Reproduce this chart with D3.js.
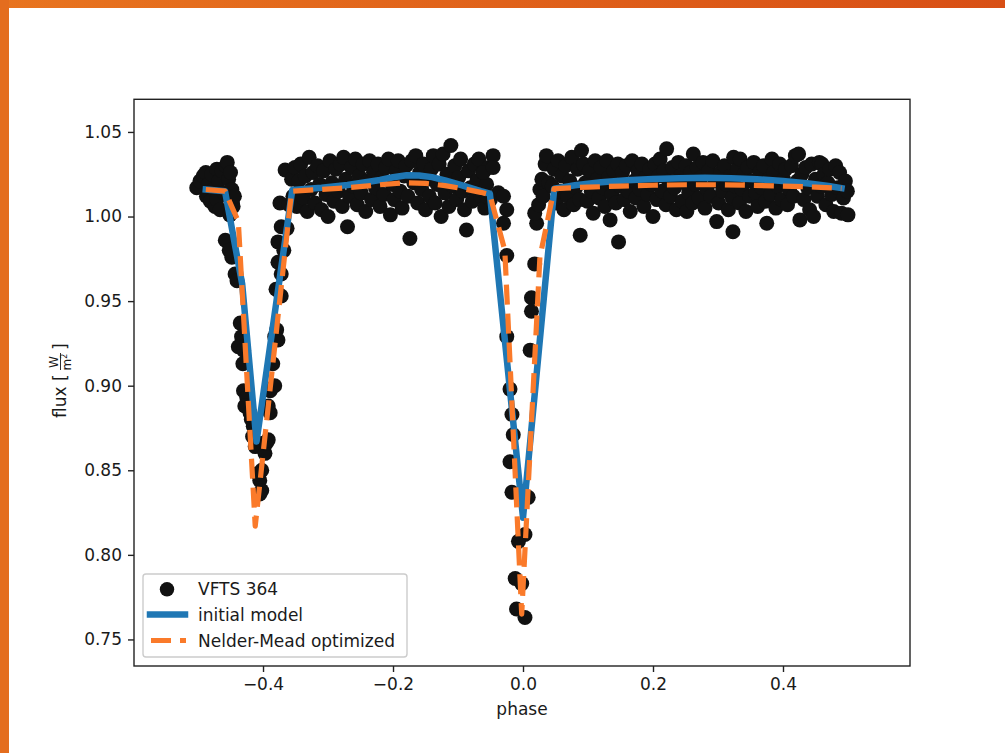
<!DOCTYPE html>
<html><head><meta charset="utf-8">
<script src="https://cdn.jsdelivr.net/npm/d3@7"></script>
<style>
html,body{margin:0;padding:0;background:#fff;}
svg{display:block;}
text{font-family:"DejaVu Sans",sans-serif;fill:#1a1a1a;}
</style></head>
<body>
<svg id="chart" width="1005" height="753"></svg>
<script>
// ---------- data ----------
const phaseTicks = [-0.4, -0.2, 0.0, 0.2, 0.4];
const fluxTicks = [0.75, 0.80, 0.85, 0.90, 0.95, 1.00, 1.05];
const seriesNames = ["VFTS 364", "initial model", "Nelder-Mead optimized"];

// observed points [phase, flux]
const obsOutA = [[-0.502,1.017],[-0.497,1.021],[-0.492,1.024],[-0.488,1.026],[-0.487,1.012],[-0.484,1.019],[-0.481,1.009],[-0.479,1.025],[-0.476,1.016],[-0.474,1.006],[-0.471,1.028],[-0.471,1.010],[-0.468,1.021],[-0.466,1.004],[-0.463,1.027],[-0.460,1.014],[-0.457,1.030],[-0.455,1.032],[-0.453,1.022],[-0.451,1.001],[-0.450,1.026],[-0.448,1.016],[-0.447,1.008],[-0.446,1.006],[-0.444,1.012]];
const obsEclipse1 = [[-0.458,0.986],[-0.452,0.980],[-0.448,0.976],[-0.443,0.966],[-0.440,0.962],[-0.435,0.937],[-0.433,0.929],[-0.438,0.923],[-0.430,0.921],[-0.431,0.913],[-0.430,0.897],[-0.425,0.893],[-0.428,0.888],[-0.420,0.884],[-0.418,0.880],[-0.415,0.876],[-0.416,0.870],[-0.412,0.864],
 [-0.400,0.866],[-0.397,0.860],[-0.405,0.844],[-0.402,0.838],[-0.405,0.836],[-0.402,0.850],[-0.408,0.848],
 [-0.395,0.866],[-0.392,0.868],[-0.392,0.888],[-0.389,0.884],[-0.389,0.897],[-0.385,0.913],[-0.382,0.900],[-0.382,0.929],[-0.379,0.933],[-0.377,0.927],[-0.380,0.957],[-0.372,0.953],[-0.372,0.966],[-0.377,0.973],[-0.377,0.985],[-0.372,0.994],[-0.374,1.008],[-0.368,0.980],[-0.366,1.0275],[-0.356,1.022],[-0.363,0.993],[-0.360,1.007]];
const obsOutB = [[-0.354,1.012],[-0.351,1.029],[-0.348,1.006],[-0.345,1.021],[-0.342,1.031],[-0.338,1.011],[-0.335,1.024],[-0.332,1.003],[-0.329,1.035],[-0.326,1.016],[-0.323,1.026],[-0.320,1.008],[-0.316,1.030],[-0.313,1.019],[-0.310,1.004],[-0.307,1.027],[-0.303,1.013],[-0.300,1.000],[-0.297,1.033],[-0.294,1.020],[-0.291,1.009],[-0.288,1.028],[-0.284,1.015],[-0.281,1.031],[-0.278,1.006],[-0.276,1.035],[-0.273,1.022],[-0.270,0.994],[-0.267,1.012],[-0.264,1.029],[-0.261,1.018],[-0.258,1.034],[-0.255,1.007],[-0.252,1.024],[-0.249,1.014],[-0.246,1.031],[-0.242,1.003],[-0.239,1.021],[-0.236,1.033],[-0.233,1.010],[-0.230,1.026],[-0.227,1.017],[-0.223,1.031],[-0.220,1.006],[-0.217,1.023],[-0.214,1.013],[-0.211,1.029],[-0.207,1.034],[-0.204,1.001],[-0.201,1.019],[-0.198,1.010],[-0.195,1.027],[-0.192,1.033],[-0.189,1.015],[-0.186,1.005],[-0.183,1.024],[-0.180,1.030],[-0.177,1.012],[-0.174,0.987],[-0.171,1.033],[-0.168,1.020],[-0.165,1.036],[-0.162,1.008],[-0.159,1.026],[-0.156,1.016],[-0.153,1.031],[-0.150,1.004],[-0.147,1.022],[-0.144,1.012],[-0.141,1.028],[-0.138,1.036],[-0.135,1.008],[-0.132,1.019],[-0.129,1.031],[-0.126,1.000],[-0.123,1.037],[-0.120,1.014],[-0.117,1.025],[-0.114,1.006],[-0.111,1.042],[-0.108,1.018],[-0.105,1.030],[-0.102,1.010],[-0.099,1.023],[-0.096,1.034],[-0.093,1.015],[-0.090,1.004],[-0.087,0.992],[-0.084,1.027],[-0.081,1.017],[-0.078,1.009],[-0.075,1.031],[-0.071,1.021],[-0.068,1.034],[-0.065,1.012],[-0.062,1.026],[-0.059,1.005],[-0.056,1.019],[-0.053,1.029],[-0.050,1.010],[-0.046,1.036]];
const obsEclipse2 = [[-0.061,1.026],[-0.056,1.012],[-0.046,1.029],[-0.038,1.014],[-0.030,1.012],[-0.025,1.004],[-0.030,0.996],[-0.025,0.977],[-0.025,0.929],[-0.020,0.898],[-0.017,0.883],[-0.015,0.871],[-0.020,0.855],[-0.017,0.837],[0.008,0.834],[0.003,0.812],[-0.007,0.808],[-0.012,0.786],[-0.002,0.783],[-0.010,0.768],[0.003,0.763],[0.013,0.952],[0.013,0.944],[0.011,0.921],[0.018,0.972],[0.021,0.996],[0.018,1.002],[0.024,1.007],[0.026,1.016],[0.029,1.022],[0.034,1.031],[0.036,1.036],[0.031,1.012],[0.040,1.020]];
const obsOutC = [[0.045,1.018],[0.048,1.028],[0.051,1.008],[0.054,1.033],[0.057,1.015],[0.060,1.024],[0.063,1.004],[0.066,1.030],[0.069,1.012],[0.072,1.021],[0.075,1.035],[0.078,1.007],[0.081,1.017],[0.084,1.028],[0.087,1.010],[0.088,0.989],[0.090,1.039],[0.093,1.031],[0.096,1.020],[0.099,1.009],[0.102,1.027],[0.105,1.015],[0.108,1.002],[0.111,1.033],[0.114,1.022],[0.117,1.011],[0.120,1.029],[0.123,1.017],[0.126,1.006],[0.129,1.033],[0.132,1.023],[0.134,0.998],[0.137,1.013],[0.140,1.027],[0.143,1.008],[0.146,1.031],[0.147,0.985],[0.150,1.018],[0.153,1.026],[0.156,1.010],[0.159,1.030],[0.162,1.015],[0.165,1.003],[0.168,1.033],[0.171,1.021],[0.174,1.011],[0.177,1.027],[0.180,1.016],[0.183,1.031],[0.186,1.006],[0.189,1.023],[0.192,1.013],[0.195,1.028],[0.198,1.019],[0.200,1.000],[0.203,1.031],[0.206,1.010],[0.209,1.024],[0.211,1.034],[0.214,1.015],[0.217,1.027],[0.220,1.007],[0.221,1.040],[0.224,1.021],[0.227,1.012],[0.230,1.029],[0.233,1.017],[0.236,1.004],[0.239,1.032],[0.242,1.024],[0.245,1.009],[0.248,1.020],[0.251,1.030],[0.252,1.003],[0.255,1.014],[0.258,1.026],[0.261,1.008],[0.262,1.037],[0.265,1.019],[0.268,1.029],[0.271,1.011],[0.274,1.023],[0.277,1.032],[0.280,1.005],[0.283,1.016],[0.286,1.027],[0.289,1.012],[0.292,1.033],[0.295,1.021],[0.298,0.997],[0.301,1.008],[0.304,1.026],[0.307,1.015],[0.310,1.030],[0.313,1.019],[0.316,1.004],[0.319,1.024],[0.322,1.011],[0.323,0.991],[0.324,1.035],[0.327,1.018],[0.330,1.028],[0.333,1.008],[0.334,1.034],[0.337,1.016],[0.340,1.025],[0.343,1.003],[0.346,1.029],[0.349,1.012],[0.352,1.021],[0.355,1.032],[0.358,1.014],[0.361,1.006],[0.364,1.026],[0.367,1.017],[0.370,1.030],[0.373,1.009],[0.375,0.996],[0.378,1.022],[0.381,1.013],[0.383,1.034],[0.386,1.026],[0.389,1.005],[0.392,1.018],[0.395,1.031],[0.398,1.010],[0.401,1.022],[0.404,1.028],[0.407,1.007],[0.410,1.016],[0.413,1.030],[0.416,1.012],[0.419,1.036],[0.422,1.021],[0.424,1.037],[0.426,0.998],[0.429,1.025],[0.432,1.010],[0.435,1.029],[0.438,1.017],[0.441,1.004],[0.444,1.031],[0.447,1.000],[0.450,1.022],[0.453,1.012],[0.456,1.032],[0.459,1.018],[0.460,1.031],[0.463,1.025],[0.466,1.007],[0.469,1.020],[0.472,1.028],[0.475,1.013],[0.478,1.003],[0.481,1.030],[0.484,1.017],[0.487,1.026],[0.490,1.002],[0.493,1.011],[0.496,1.021],[0.499,1.015],[0.500,1.001]];

// model curves [phase, flux]
const initialModel = [[-0.488,1.016],[-0.4585,1.015],[-0.432,0.960],[-0.410,0.867],[-0.355,1.0157],[-0.31,1.0170],[-0.27,1.0186],[-0.22,1.0216],[-0.20,1.0232],[-0.179,1.0244],[-0.16,1.0243],[-0.14,1.0233],[-0.12,1.0214],[-0.10,1.0192],[-0.08,1.0168],[-0.065,1.0150],[-0.051,1.0135],[0.000,0.822],[0.048,1.0165],[0.08,1.0185],[0.12,1.0203],[0.16,1.0215],[0.20,1.0222],[0.24,1.0227],[0.28,1.0229],[0.32,1.0227],[0.36,1.0221],[0.40,1.0210],[0.44,1.0195],[0.47,1.0180],[0.49,1.0168]];
const optimizedModel = [[-0.488,1.016],[-0.4585,1.015],[-0.438,0.997],[-0.412,0.817],[-0.356,1.0150],[-0.31,1.0160],[-0.27,1.0170],[-0.22,1.0188],[-0.18,1.0200],[-0.15,1.0196],[-0.12,1.0183],[-0.09,1.0163],[-0.065,1.0143],[-0.051,1.0130],[-0.028,0.980],[-0.002,0.765],[0.026,0.976],[0.048,1.0165],[0.10,1.0174],[0.15,1.0180],[0.20,1.0185],[0.25,1.0188],[0.30,1.0188],[0.35,1.0185],[0.40,1.0180],[0.45,1.0174],[0.49,1.0167]];

const observed = [].concat(obsOutA, obsEclipse1, obsOutB, obsEclipse2, obsOutC);

// ---------- drawing ----------
const svg = d3.select("#chart");
const C = {blue:"#1f77b4", orange:"#fa7a2a", dot:"#111111"};

// slide frame
const defs = svg.append("defs");
const grad = defs.append("linearGradient").attr("id","og").attr("x1","0").attr("x2","1").attr("y1","0").attr("y2","0");
grad.append("stop").attr("offset","0").attr("stop-color","#e8741f");
grad.append("stop").attr("offset","1").attr("stop-color","#d84f15");
svg.append("rect").attr("x",0).attr("y",0).attr("width",1005).attr("height",8).attr("fill","url(#og)");
svg.append("rect").attr("x",0).attr("y",0).attr("width",9).attr("height",753).attr("fill","#e46d1e");

const L = 134, R = 910, T = 99.3, B = 666;
const x = d3.scaleLinear().domain([-0.5985, 0.5954]).range([L, R]);
const y = d3.scaleLinear().domain([0.7343, 1.0693]).range([B, T]);

const fmtX = v => (v < 0 ? "\u2212" : "") + Math.abs(v).toFixed(1);
const fmtY = v => v.toFixed(2);

const plot = svg.append("g");
plot.append("defs").append("clipPath").attr("id","clip")
  .append("rect").attr("x",L).attr("y",T).attr("width",R-L).attr("height",B-T);

const g = plot.append("g").attr("clip-path","url(#clip)");
g.selectAll("circle.obs").data(observed).join("circle")
  .attr("class","obs")
  .attr("cx", d => x(d[0])).attr("cy", d => y(d[1]))
  .attr("r", 7.5).attr("fill", C.dot);

const line = d3.line().x(d => x(d[0])).y(d => y(d[1]));
g.append("path").datum(initialModel).attr("d", line)
  .attr("fill","none").attr("stroke",C.blue).attr("stroke-width",6.5)
  .attr("stroke-linejoin","round").attr("stroke-linecap","square");
g.append("path").datum(optimizedModel).attr("d", line)
  .attr("fill","none").attr("stroke",C.orange).attr("stroke-width",5.2)
  .attr("stroke-dasharray","20,9").attr("stroke-linejoin","round").attr("stroke-linecap","butt");

// axes
const ax = svg.append("g").attr("transform",`translate(0,${B})`)
  .call(d3.axisBottom(x).tickValues(phaseTicks).tickFormat(fmtX).tickSize(6).tickPadding(6));
const ay = svg.append("g").attr("transform",`translate(${L},0)`)
  .call(d3.axisLeft(y).tickValues(fluxTicks).tickFormat(fmtY).tickSize(6).tickPadding(6));
[ax, ay].forEach(a => {
  a.select(".domain").remove();
  a.selectAll(".tick line").attr("stroke","#222").attr("stroke-width",1.4);
  a.selectAll(".tick text").attr("font-family","DejaVu Sans").attr("font-size",17).attr("fill","#1a1a1a");
});
svg.append("rect").attr("x",L).attr("y",T).attr("width",R-L).attr("height",B-T)
  .attr("fill","none").attr("stroke","#222").attr("stroke-width",1.4);

// axis labels
svg.append("text").attr("x",(L+R)/2).attr("y",715).attr("text-anchor","middle")
  .attr("font-size",17).text("phase");
const yl = svg.append("g").attr("transform","translate(60,380) rotate(-90)");
yl.append("text").attr("x",-38).attr("y",6).attr("font-size",17).text("flux [");
yl.append("text").attr("x",18).attr("y",-2).attr("text-anchor","middle").attr("font-size",12).text("W");
yl.append("line").attr("x1",10).attr("x2",27).attr("y1",0.5).attr("y2",0.5).attr("stroke","#1a1a1a").attr("stroke-width",0.9);
const den = yl.append("text").attr("x",18).attr("y",11).attr("text-anchor","middle").attr("font-size",12);
den.append("tspan").text("m");
den.append("tspan").attr("font-size",8).attr("dy",-4).text("2");
yl.append("text").attr("x",30).attr("y",6).attr("font-size",17).text("]");

// legend
const lg = svg.append("g");
lg.append("rect").attr("x",143).attr("y",574).attr("width",264).attr("height",83).attr("rx",3)
  .attr("fill","#fff").attr("fill-opacity",0.8).attr("stroke","#cccccc").attr("stroke-width",1.4);
const rows = [589.3, 614.5, 640.5];
lg.append("circle").attr("cx",167).attr("cy",rows[0]).attr("r",7.2).attr("fill",C.dot);
lg.append("line").attr("x1",150).attr("x2",185).attr("y1",rows[1]).attr("y2",rows[1])
  .attr("stroke",C.blue).attr("stroke-width",6.5).attr("stroke-linecap","square");
lg.append("line").attr("x1",151).attr("x2",186).attr("y1",rows[2]).attr("y2",rows[2])
  .attr("stroke",C.orange).attr("stroke-width",5.2).attr("stroke-dasharray","20,9");
seriesNames.forEach((n,i) => {
  lg.append("text").attr("x",198).attr("y",rows[i]+6).attr("font-size",17).text(n);
});
</script>
</body></html>
